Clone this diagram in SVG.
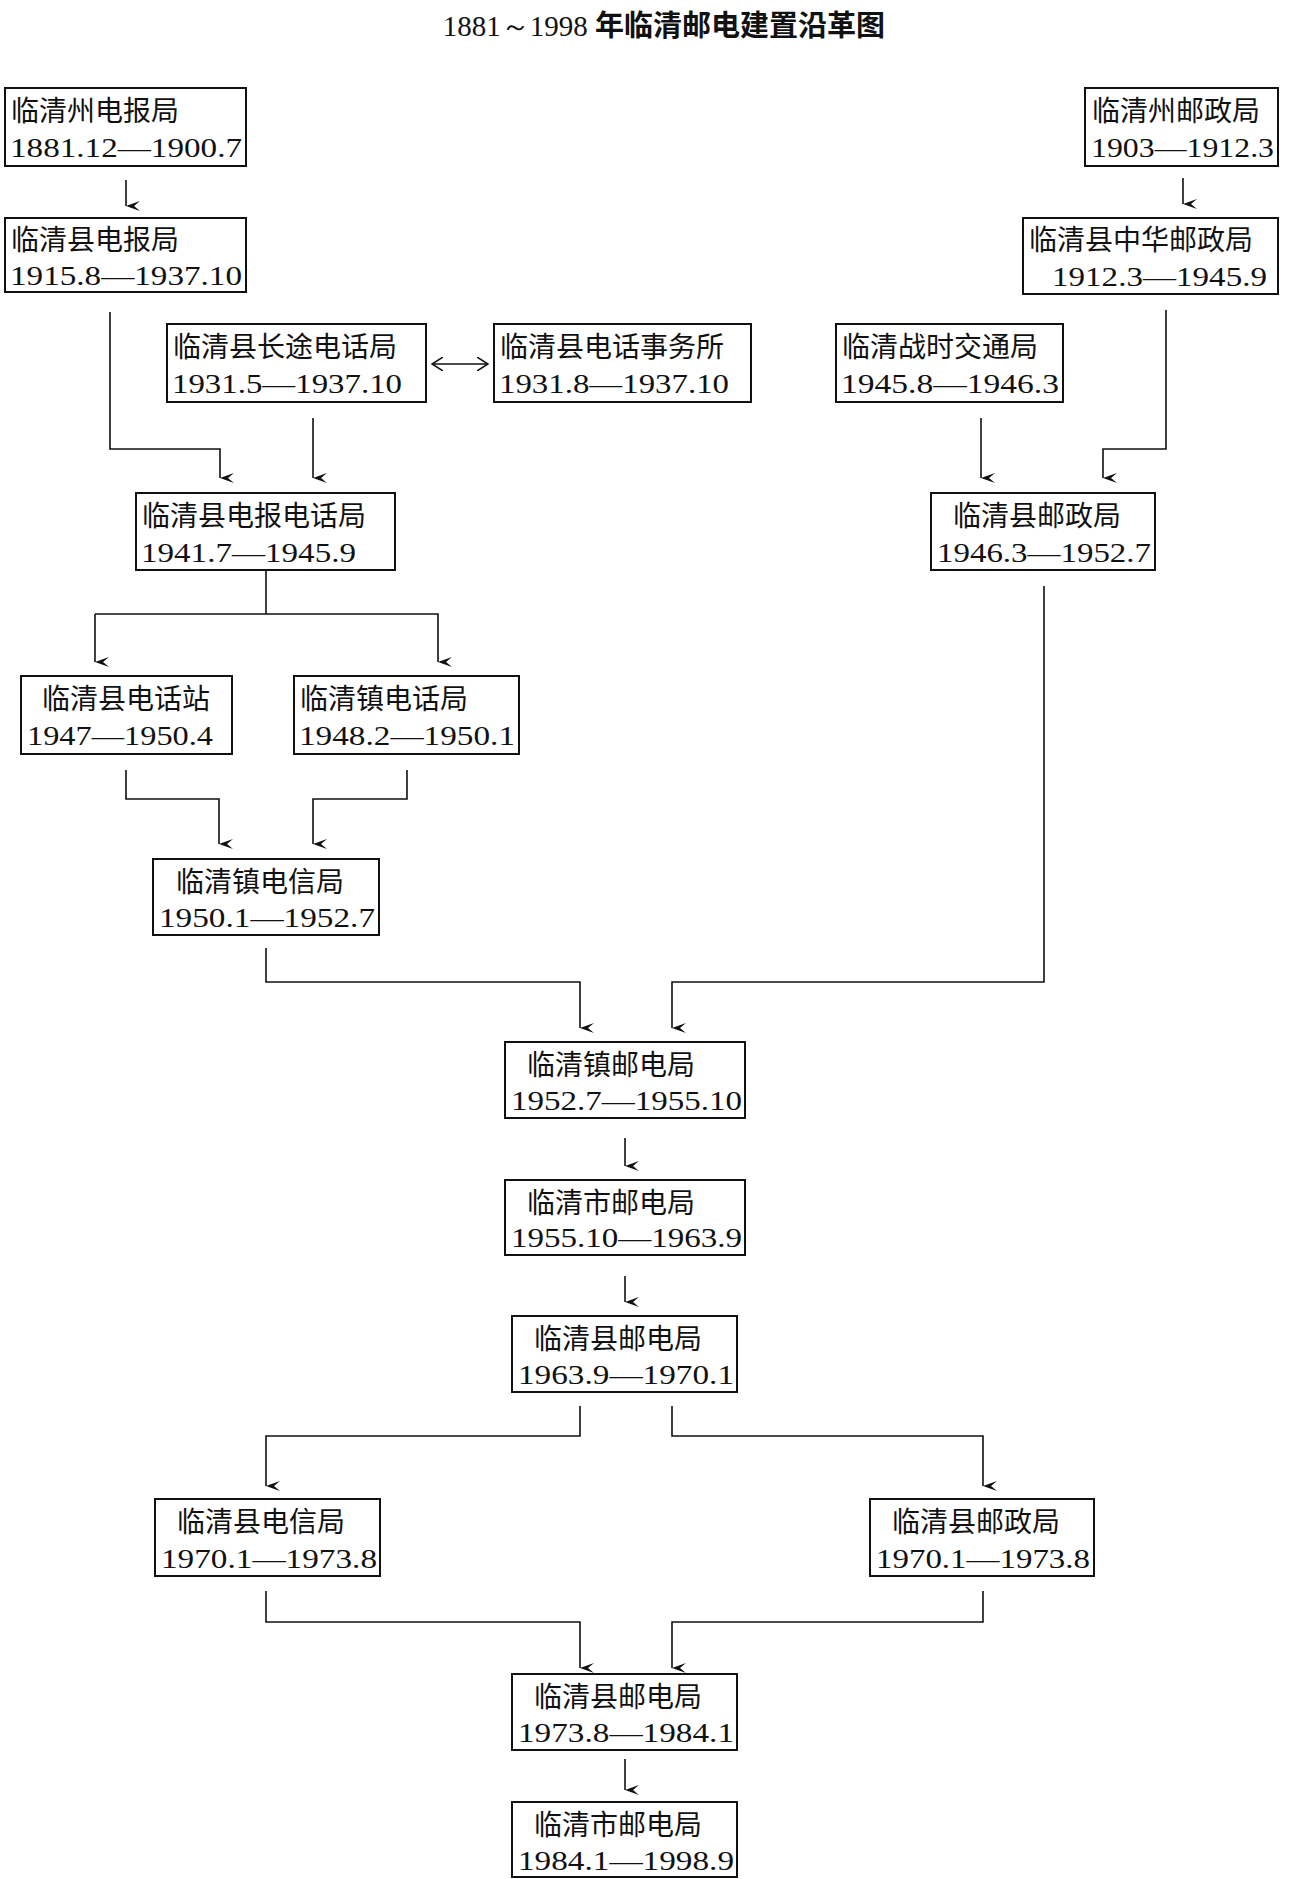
<svg xmlns="http://www.w3.org/2000/svg" width="1290" height="1879" viewBox="0 0 1290 1879">
<defs>
<marker id="ah" markerWidth="10" markerHeight="14" refX="5" refY="14" orient="auto-start-reverse" markerUnits="userSpaceOnUse" viewBox="0 0 10 14">
<path d="M0,0 L5,14 L10,0 L5,6 Z" fill="#111"/>
</marker>
<marker id="oa" markerWidth="12" markerHeight="14" refX="11" refY="7" orient="auto-start-reverse" markerUnits="userSpaceOnUse" viewBox="0 0 12 14">
<path d="M0,0 L11,7 L0,14" fill="none" stroke="#111" stroke-width="1.5"/>
</marker>
</defs>
<style>
.b{fill:#fff;stroke:#111;stroke-width:2}
.t{font-family:"Noto Sans CJK SC",sans-serif;font-size:28px;fill:#111}
.d{font-family:"Liberation Serif",serif;font-size:27px;fill:#111}
.c{fill:none;stroke:#111;stroke-width:1.6}
.a{marker-end:url(#ah)}
</style>
<rect width="1290" height="1879" fill="#fff"/>
<text x="664" y="36" text-anchor="middle" style="font-size:29px;fill:#111"><tspan style="font-family:'Liberation Serif',serif">1881～1998 </tspan><tspan style="font-family:'Noto Sans CJK SC',sans-serif;font-weight:bold">年临清邮电建置沿革图</tspan></text>

<g id="n1"><rect class="b" x="5" y="88" width="241" height="78"/><text class="t" x="11" y="121">临清州电报局</text><text class="d" x="10" y="157" textLength="232" lengthAdjust="spacingAndGlyphs">1881.12—1900.7</text></g>
<g id="n2"><rect class="b" x="5" y="218" width="241" height="74"/><text class="t" x="11" y="250">临清县电报局</text><text class="d" x="10" y="285" textLength="232" lengthAdjust="spacingAndGlyphs">1915.8—1937.10</text></g>
<g id="n3"><rect class="b" x="167" y="324" width="259" height="78"/><text class="t" x="173" y="357">临清县长途电话局</text><text class="d" x="172" y="393" textLength="230" lengthAdjust="spacingAndGlyphs">1931.5—1937.10</text></g>
<g id="n4"><rect class="b" x="494" y="324" width="257" height="78"/><text class="t" x="500" y="357">临清县电话事务所</text><text class="d" x="499" y="393" textLength="230" lengthAdjust="spacingAndGlyphs">1931.8—1937.10</text></g>
<g id="n5"><rect class="b" x="836" y="324" width="227" height="78"/><text class="t" x="842" y="357">临清战时交通局</text><text class="d" x="841" y="393" textLength="218" lengthAdjust="spacingAndGlyphs">1945.8—1946.3</text></g>
<g id="n6"><rect class="b" x="1085" y="88" width="193" height="78"/><text class="t" x="1092" y="121">临清州邮政局</text><text class="d" x="1091" y="157" textLength="183" lengthAdjust="spacingAndGlyphs">1903—1912.3</text></g>
<g id="n7"><rect class="b" x="1023" y="218" width="255" height="76"/><text class="t" x="1029" y="250">临清县中华邮政局</text><text class="d" x="1052" y="286" textLength="215" lengthAdjust="spacingAndGlyphs">1912.3—1945.9</text></g>
<g id="n8"><rect class="b" x="136" y="493" width="259" height="77"/><text class="t" x="142" y="526">临清县电报电话局</text><text class="d" x="141" y="562" textLength="215" lengthAdjust="spacingAndGlyphs">1941.7—1945.9</text></g>
<g id="n9"><rect class="b" x="931" y="493" width="224" height="77"/><text class="t" x="953" y="526">临清县邮政局</text><text class="d" x="937" y="562" textLength="214" lengthAdjust="spacingAndGlyphs">1946.3—1952.7</text></g>
<g id="n10"><rect class="b" x="21" y="676" width="211" height="78"/><text class="t" x="42" y="709">临清县电话站</text><text class="d" x="27" y="745" textLength="186" lengthAdjust="spacingAndGlyphs">1947—1950.4</text></g>
<g id="n11"><rect class="b" x="294" y="676" width="225" height="78"/><text class="t" x="300" y="709">临清镇电话局</text><text class="d" x="299" y="745" textLength="216" lengthAdjust="spacingAndGlyphs">1948.2—1950.1</text></g>
<g id="n12"><rect class="b" x="153" y="859" width="226" height="76"/><text class="t" x="176" y="892">临清镇电信局</text><text class="d" x="159" y="927" textLength="216" lengthAdjust="spacingAndGlyphs">1950.1—1952.7</text></g>
<g id="n13"><rect class="b" x="505" y="1042" width="240" height="76"/><text class="t" x="527" y="1075">临清镇邮电局</text><text class="d" x="511" y="1110" textLength="231" lengthAdjust="spacingAndGlyphs">1952.7—1955.10</text></g>
<g id="n14"><rect class="b" x="505" y="1180" width="240" height="75"/><text class="t" x="527" y="1213">临清市邮电局</text><text class="d" x="511" y="1247" textLength="231" lengthAdjust="spacingAndGlyphs">1955.10—1963.9</text></g>
<g id="n15"><rect class="b" x="512" y="1316" width="225" height="76"/><text class="t" x="534" y="1349">临清县邮电局</text><text class="d" x="518" y="1384" textLength="216" lengthAdjust="spacingAndGlyphs">1963.9—1970.1</text></g>
<g id="n16"><rect class="b" x="155" y="1499" width="225" height="77"/><text class="t" x="177" y="1532">临清县电信局</text><text class="d" x="161" y="1568" textLength="216" lengthAdjust="spacingAndGlyphs">1970.1—1973.8</text></g>
<g id="n17"><rect class="b" x="870" y="1499" width="224" height="77"/><text class="t" x="892" y="1532">临清县邮政局</text><text class="d" x="876" y="1568" textLength="214" lengthAdjust="spacingAndGlyphs">1970.1—1973.8</text></g>
<g id="n18"><rect class="b" x="512" y="1674" width="225" height="76"/><text class="t" x="534" y="1707">临清县邮电局</text><text class="d" x="518" y="1742" textLength="216" lengthAdjust="spacingAndGlyphs">1973.8—1984.1</text></g>
<g id="n19"><rect class="b" x="512" y="1802" width="225" height="75"/><text class="t" x="534" y="1835">临清市邮电局</text><text class="d" x="518" y="1870" textLength="216" lengthAdjust="spacingAndGlyphs">1984.1—1998.9</text></g>

<g id="connectors">
<path class="c a" d="M126,180 V206"/>
<path class="c a" d="M1183,178 V204"/>
<path class="c a" d="M110,312 V449 H220 V478"/>
<path class="c a" d="M313,418 V478"/>
<path class="c" d="M432,364 H488" marker-start="url(#oa)" marker-end="url(#oa)"/>
<path class="c a" d="M981,418 V478"/>
<path class="c a" d="M1166,310 V449 H1103 V478"/>
<path class="c" d="M266,570 V614"/>
<path class="c a" d="M95,614 V662"/>
<path class="c a" d="M95,614 H438 V662"/>
<path class="c a" d="M126,770 V799 H219 V844"/>
<path class="c a" d="M407,770 V799 H313 V844"/>
<path class="c a" d="M266,948 V982 H580 V1028"/>
<path class="c a" d="M1044,586 V982 H672 V1028"/>
<path class="c a" d="M625,1138 V1166"/>
<path class="c a" d="M625,1276 V1302"/>
<path class="c a" d="M580,1406 V1436 H266 V1486"/>
<path class="c a" d="M672,1406 V1436 H983 V1486"/>
<path class="c a" d="M266,1591 V1622 H580 V1668"/>
<path class="c a" d="M983,1591 V1622 H672 V1668"/>
<path class="c a" d="M625,1759 V1790"/>
</g>
</svg>
